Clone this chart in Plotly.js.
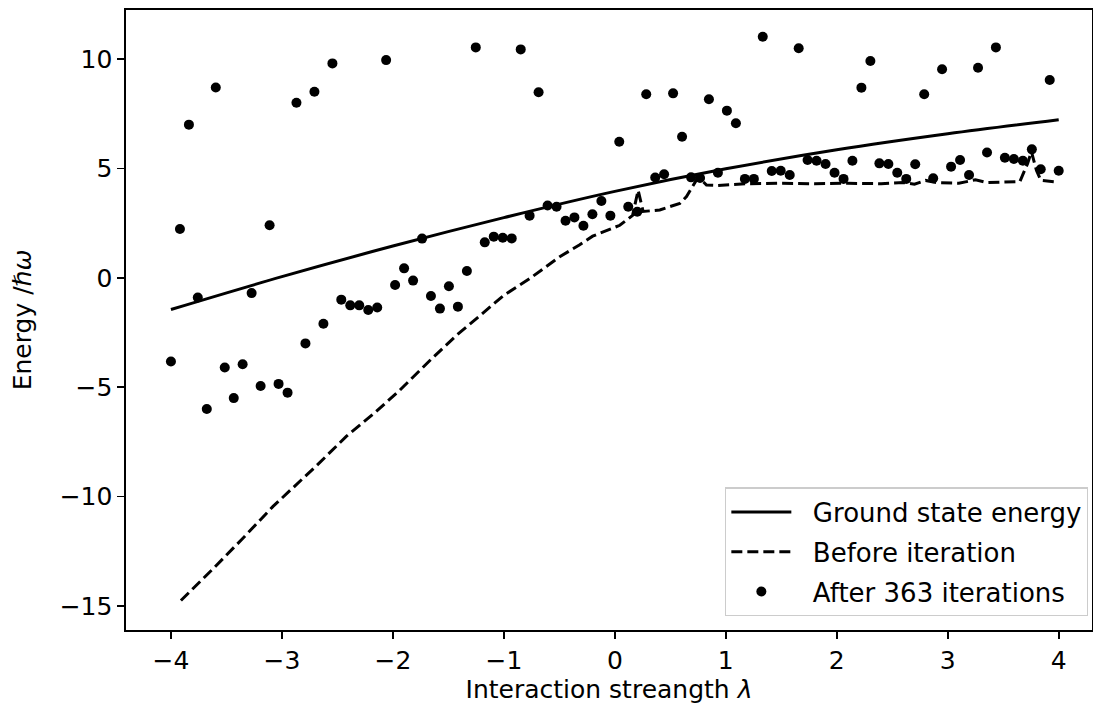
<!DOCTYPE html>
<html>
<head>
<meta charset="utf-8">
<script src="https://cdn.plot.ly/plotly-3.0.1.min.js"></script>
<style>html,body{margin:0;padding:0;background:#fff;}#chart{width:1093px;height:712px;}</style>
</head>
<body>
<div id="chart"></div>
<script>
// Ground state energy (solid)
const groundX = [-4, -3, -2, -1, 0, 1, 2, 3, 4];
const groundY = [-1.45, 0.05, 1.45, 2.75, 3.95, 4.98, 5.85, 6.58, 7.22];

// Before iteration (dashed)
const beforeX = [-3.91, -3.62, -3.36, -3.2, -3.08, -2.69, -2.54, -2.42, -2.17, -1.94, -1.64, -1.42, -1.22, -1.0, -0.77, -0.5, -0.32, -0.2, 0.045, 0.16, 0.21, 0.255, 0.405, 0.586, 0.646, 0.736, 0.766, 0.826, 0.92, 1.2, 1.5, 1.8, 2.1, 2.4, 2.6, 2.7, 2.8, 2.9, 3.1, 3.25, 3.35, 3.65, 3.72, 3.754, 3.8, 3.84, 3.96, 4.0];
const beforeY = [-14.75, -13.3, -11.95, -11.1, -10.45, -8.6, -7.85, -7.25, -6.2, -5.15, -3.65, -2.6, -1.75, -0.8, -0.05, 0.95, 1.5, 1.9, 2.4, 2.85, 4.0, 3.03, 3.1, 3.4, 3.71, 4.47, 4.55, 4.24, 4.22, 4.3, 4.32, 4.3, 4.32, 4.3, 4.35, 4.28, 4.45, 4.35, 4.32, 4.48, 4.35, 4.4, 5.23, 5.77, 4.9, 4.45, 4.39, 4.39];

// After 363 iterations (scatter)
const afterX = [-4.0, -3.919, -3.838, -3.758, -3.677, -3.596, -3.515, -3.434, -3.354, -3.273,
  -3.192, -3.111, -3.030, -2.949, -2.869, -2.788, -2.707, -2.626, -2.545, -2.465,
  -2.384, -2.303, -2.222, -2.141, -2.061, -1.980, -1.899, -1.818, -1.737, -1.657,
  -1.576, -1.495, -1.414, -1.333, -1.253, -1.172, -1.091, -1.010, -0.929, -0.848,
  -0.768, -0.687, -0.606, -0.525, -0.444, -0.364, -0.283, -0.202, -0.121, -0.040,
  0.040, 0.121, 0.202, 0.283, 0.364, 0.444, 0.525, 0.606, 0.687, 0.768,
  0.848, 0.929, 1.010, 1.091, 1.172, 1.253, 1.333, 1.414, 1.495, 1.576,
  1.657, 1.737, 1.818, 1.899, 1.980, 2.061, 2.141, 2.222, 2.303, 2.384,
  2.465, 2.545, 2.626, 2.707, 2.788, 2.869, 2.949, 3.030, 3.111, 3.192,
  3.273, 3.354, 3.434, 3.515, 3.596, 3.677, 3.758, 3.838, 3.919, 4.0];
const afterY = [-3.83, 2.23, 7.0, -0.9, -6.0, 8.7, -4.1, -5.5, -3.95, -0.7,
  -4.95, 2.4, -4.85, -5.25, 8.0, -3.0, 8.5, -2.1, 9.8, -1.0,
  -1.26, -1.26, -1.47, -1.36, 9.95, -0.33, 0.43, -0.13, 1.79, -0.83,
  -1.41, -0.39, -1.32, 0.31, 10.53, 1.62, 1.88, 1.83, 1.80, 10.44,
  2.84, 8.48, 3.30, 3.25, 2.61, 2.76, 2.38, 2.90, 3.51, 2.84,
  6.22, 3.25, 3.02, 8.39, 4.58, 4.73, 8.43, 6.45, 4.59, 4.56,
  8.16, 4.80, 7.64, 7.06, 4.52, 4.52, 11.02, 4.88, 4.89, 4.70,
  10.49, 5.38, 5.35, 5.20, 4.80, 4.52, 5.35, 8.69, 9.91, 5.23,
  5.20, 4.80, 4.52, 5.19, 8.39, 4.55, 9.53, 5.08, 5.38, 4.70,
  9.60, 5.73, 10.53, 5.49, 5.43, 5.35, 5.87, 4.96, 9.04, 4.89];

const xTicks = [-4, -3, -2, -1, 0, 1, 2, 3, 4];
const yTicks = [-15, -10, -5, 0, 5, 10];
const seriesNames = ['Ground state energy', 'Before iteration', 'After 363 iterations'];

const FONT = 'DejaVu Sans, sans-serif';
const FS = 25;
const GAP = '\u00a0\u00a0';

const traces = [
  {x: groundX, y: groundY, mode: 'lines', name: GAP + seriesNames[0], legendgroup: 'g1',
   line: {color: '#000', width: 3, shape: 'spline'}},
  {x: beforeX, y: beforeY, mode: 'lines', name: GAP + seriesNames[1], legendgroup: 'g2',
   line: {color: '#000', width: 3, dash: '11px,5px'}},
  {x: afterX, y: afterY, mode: 'markers', name: GAP + seriesNames[2], legendgroup: 'g3',
   marker: {color: '#000', size: 10}}
];

const axisCommon = {
  showgrid: false, zeroline: false, showline: true, mirror: true,
  linecolor: '#000', linewidth: 1.6, ticks: 'outside', ticklen: 7, tickwidth: 1.6,
  tickcolor: '#000', tickfont: {family: FONT, size: FS, color: '#000'}
};

const layout = {
  width: 1093, height: 712,
  margin: {l: 126, r: 1, t: 10, b: 82},
  paper_bgcolor: '#fff', plot_bgcolor: '#fff',
  font: {family: FONT, color: '#000'},
  xaxis: Object.assign({}, axisCommon, {
    range: [-4.405, 4.3], tickvals: xTicks,
    title: {text: 'Interaction streangth <i>λ</i>', font: {family: FONT, size: FS}, standoff: 4}
  }),
  yaxis: Object.assign({}, axisCommon, {
    range: [-16.1, 12.24], tickvals: yTicks,
    title: {text: 'Energy /<i>ℏω</i>', font: {family: FONT, size: FS}, standoff: 21}
  }),
  showlegend: true,
  legend: {
    x: 0.996, y: 0.022, xanchor: 'right', yanchor: 'bottom',
    bgcolor: 'rgba(255,255,255,0.8)', bordercolor: '#cccccc', borderwidth: 1.2,
    font: {family: FONT, size: 26, color: '#000'}, itemwidth: 60,
    tracegroupgap: 3
  }
};

Plotly.newPlot('chart', traces, layout, {displayModeBar: false, staticPlot: true});
</script>
</body>
</html>
